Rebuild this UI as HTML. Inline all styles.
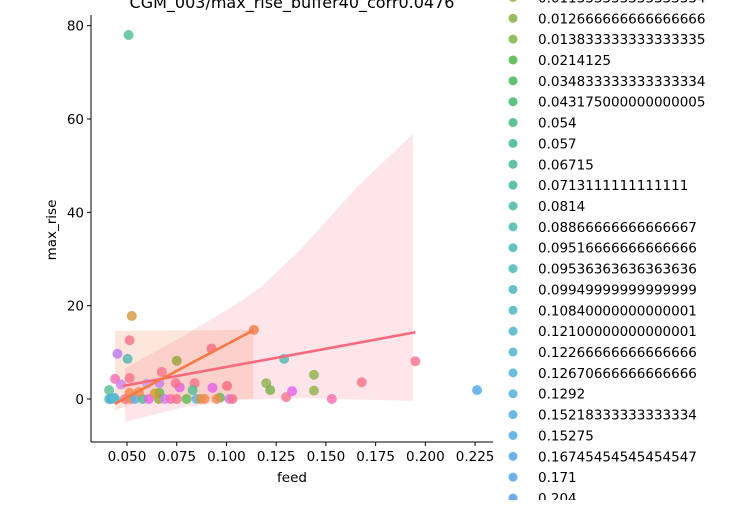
<!DOCTYPE html>
<html><head><meta charset="utf-8"><style>
body{margin:0;background:#fff}
svg{font-family:"DejaVu Sans","Liberation Sans",sans-serif}
</style></head><body>
<svg id="chart" width="731" height="500" viewBox="0 0 731 500">
<text x="292" y="8" font-size="16" text-anchor="middle">CGM_003/max_rise_buffer40_corr0.0476</text>
<g id="plot"></g>
<g id="legend"></g>
</svg>
<script>
const feedX=[0.0524,0.0513,0.0452,0.0503,0.075,0.0925,0.1138,0.129,0.144,0.120,0.122,0.144,0.130,0.133,0.153,0.168,0.195,0.226,0.1003,0.093,0.084,0.083,0.0765,0.0745,0.0675,0.0663,0.0663,0.060,0.0513,0.044,0.047,0.041,0.0513,0.0967,0.0508,
0.041,0.042,0.044,0.049,0.052,0.054,0.058,0.061,0.066,0.069,0.072,0.075,0.080,0.085,0.087,0.089,0.095,0.1015,0.103,0.0435,0.056,0.064];
const maxRise=[17.8,12.6,9.7,8.6,8.2,10.8,14.8,8.6,5.2,3.4,1.9,1.8,0.4,1.7,0,3.6,8.1,1.9,2.8,2.4,3.4,1.9,2.5,3.4,5.8,3.4,1.3,3.3,4.5,4.3,3.1,1.9,1.3,0.3,78,
0,0,0,0,0,0,0,0,0,0,0,0,0,0,0,0,0,0,0,0.3,1.5,1.2];
const ptColors=["#d09a3c","#f77189","#b67cf0","#4fb7b0","#97a431","#f7697d","#f57a45","#4fbab0","#8fb04a","#8fb04a","#75b045","#8fb04a","#f7738f","#e75fe8","#f76cb0","#f77189","#f77189","#4aa6e8","#f7697d","#e162e6","#f77189","#4fbd91","#e162e6","#f77189","#f77189","#c77ff0","#5bba4e","#c89af0","#f77189","#f76cb0","#c77ff0","#4fbd91","#f5894e","#5bba4e","#4dbd91",
"#4fbda3","#4aa6e8","#58b5de","#f77189","#f5894e","#5aafe6","#4fbd91","#e75fe8","#97a431","#c77ff0","#f76cb0","#f77189","#5bba4e","#5aafe6","#d09a3c","#f5894e","#f5894e","#c77ff0","#f77189","#55bbc8","#f5894e","#d09a3c"];
const regPinkX=[0.048,0.195];
const regPinkY=[2.8,14.3];
const regOrangeX=[0.044,0.1138];
const regOrangeY=[-1.0,14.8];
const bandPinkTopX=[0.049,0.0792,0.1083,0.1169,0.137,0.1656,0.1772,0.1938];
const bandPinkTopY=[6.6,13.7,21.2,23.8,31.9,45.4,50.1,56.8];
const bandPinkBotX=[0.1938,0.137,0.1068,0.0767,0.049];
const bandPinkBotY=[-0.4,0.2,-0.2,-1.9,-4.9];
const bandOrX=[0.044,0.1135,0.1135,0.06,0.044];
const bandOrY=[14.6,14.8,0,0.2,-2.5];
const xTicks=[0.05,0.075,0.1,0.125,0.15,0.175,0.2,0.225];
const xTickLabels=["0.050","0.075","0.100","0.125","0.150","0.175","0.200","0.225"];
const yTicks=[0,20,40,60,80];
const legendLabels=["0.011333333333333334","0.012666666666666666","0.013833333333333335","0.0214125","0.034833333333333334","0.043175000000000005","0.054","0.057","0.06715","0.0713111111111111","0.0814","0.08866666666666667","0.09516666666666666","0.09536363636363636","0.09949999999999999","0.10840000000000001","0.12100000000000001","0.12266666666666666","0.12670666666666666","0.1292","0.15218333333333334","0.15275","0.16745454545454547","0.171","0.204"];
const legendColors=["#96b14b","#8db54c","#84ba4c","#5bba4e","#4cbc5e","#4abd73","#4cbd86","#4dbd91","#4ebd9a","#4fbda3","#50bdab","#51bdb2","#52bdb8","#53bdbd","#54bcc2","#55bbc8","#56bacd","#57b9d2","#58b7d8","#58b5de","#59b2e2","#5aafe6","#5cabe8","#5ea8ea","#60a4ec"];

const NS="http://www.w3.org/2000/svg";
const L=91,R=493,T=15,B=442;
const sx=v=>127+(v-0.05)*1989;
const sy=v=>399-v*4.667;
const plot=document.getElementById('plot');
function mk(tag,attrs,parent){const e=document.createElementNS(NS,tag);for(const k in attrs)e.setAttribute(k,attrs[k]);(parent||plot).appendChild(e);return e;}
function poly(xs,ys){return xs.map((x,i)=>sx(x)+","+sy(ys[i])).join(" ");}

let e=mk('polygon',{points:poly(bandPinkTopX.concat(bandPinkBotX),bandPinkTopY.concat(bandPinkBotY)),fill:"#f77189","fill-opacity":"0.18"});


e=mk('polygon',{points:poly(bandOrX,bandOrY),fill:"#f57a45","fill-opacity":"0.18"});



feedX.forEach((x,i)=>{
 const c=mk('circle',{cx:sx(x),cy:sy(maxRise[i]),r:5,fill:ptColors[i],"fill-opacity":"0.8"});
 
 
});
e=mk('line',{x1:sx(regPinkX[0]),y1:sy(regPinkY[0]),x2:sx(regPinkX[1]),y2:sy(regPinkY[1]),stroke:"#f7697d","stroke-width":2.6});


e=mk('line',{x1:sx(regOrangeX[0]),y1:sy(regOrangeY[0]),x2:sx(regOrangeX[1]),y2:sy(regOrangeY[1]),stroke:"#f57a45","stroke-width":2.6});



e=mk('line',{x1:L,y1:T,x2:L,y2:B,stroke:"#000","stroke-width":1});


e=mk('line',{x1:L,y1:B,x2:R,y2:B,stroke:"#000","stroke-width":1});


xTicks.forEach((t,i)=>{
 const x=sx(t);
 const tk=mk('line',{x1:x,y1:B,x2:x,y2:B+4,stroke:"#000"});
 
 
 const tx=mk('text',{x:x,y:B+19,"font-size":"13.5","text-anchor":"middle"});
 tx.textContent=xTickLabels[i];
 
 
});
yTicks.forEach(t=>{
 const y=sy(t);
 const tk=mk('line',{x1:L-4,y1:y,x2:L,y2:y,stroke:"#000"});
 
 
 const tx=mk('text',{x:L-7,y:y+5,"font-size":"13.5","text-anchor":"end"});
 tx.textContent=String(t);
 
 
});
e=mk('text',{x:292,y:482,"font-size":"13.5","text-anchor":"middle"});
e.textContent="feed";


e=mk('text',{x:0,y:0,"font-size":"13.5","text-anchor":"middle",transform:"translate(56,230) rotate(-90)"});
e.textContent="max_rise";



const lg=document.getElementById('legend');
legendLabels.forEach((lab,i)=>{
 const y=-2.6+i*20.86;
 const g=mk('g',{},lg);
 
 
 mk('circle',{cx:513,cy:y,r:4.5,fill:legendColors[i],"fill-opacity":"0.9"},g);
 const t=mk('text',{x:538,y:y+5,"font-size":"13.5"},g);
 t.textContent=lab;
});
</script>
</body></html>
